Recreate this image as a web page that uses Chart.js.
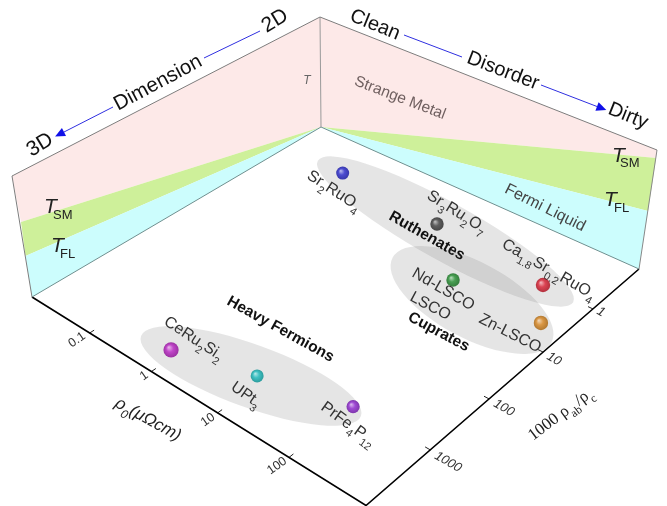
<!DOCTYPE html>
<html><head><meta charset="utf-8">
<style>html,body{margin:0;padding:0;background:#fff}canvas{display:block}</style>
<script src="https://cdn.jsdelivr.net/npm/chart.js@4"></script></head>
<body><canvas id="c" width="667" height="506"></canvas>
<script>
// ---- data ----
const materials = ["Sr2RuO4","Sr3Ru2O7","Ca1.8Sr0.2RuO4","Nd-LSCO","Zn-LSCO","CeRu2Si2","UPt3","PrFe4P12"];
const rho0 = [0.097,4.24,208,29.4,497,0.79,8.1,100];          // µΩcm
const rhoRatio = [0.49,0.65,0.99,3.96,3.93,4110,2060,1040];   // 1000 rho_ab/rho_c
const rho0Ticks = [0.1,1,10,100];
const ratioTicks = [1,10,100,1000];
const rho0Range = [0.01,1000];
const ratioRange = [0.1,10000];

// ---- styles ----
const sphereColors = [[67,67,207],[85,85,85],[217,58,74],[63,154,74],[216,146,58],[189,60,198],[53,190,192],[154,66,210]];
const sphereRadii = [6.5,6.7,7.2,6.7,7.2,7.6,6.5,6.6];
const PINK="#fde9e8", GREEN="#cef09a", CYAN="#ccfdfd", EDGE="#7d7d7d", BLUE="#2f2fe0";

// floor projection: corners of the floor in canvas coordinates
const A=[321,127],B=[639,269],C=[366,505.5],D=[32,297];
const H=(()=>{const dx1=B[0]-C[0],dy1=B[1]-C[1],dx2=D[0]-C[0],dy2=D[1]-C[1],
  sx=A[0]-B[0]+C[0]-D[0],sy=A[1]-B[1]+C[1]-D[1],det=dx1*dy2-dy1*dx2,
  g=(sx*dy2-sy*dx2)/det,h=(dx1*sy-dy1*sx)/det;
  return {a:B[0]-A[0]+g*B[0],b:D[0]-A[0]+h*D[0],c:A[0],d:B[1]-A[1]+g*B[1],e:D[1]-A[1]+h*D[1],f:A[1],g,h};})();
function project(r,q){
  const p=(Math.log10(r)-Math.log10(rho0Range[0]))/(Math.log10(rho0Range[1])-Math.log10(rho0Range[0]));
  const s=(Math.log10(q)-Math.log10(ratioRange[0]))/(Math.log10(ratioRange[1])-Math.log10(ratioRange[0]));
  const w=H.g*p+H.h*s+1;
  return {x:(H.a*p+H.b*s+H.c)/w,y:(H.d*p+H.e*s+H.f)/w};
}
const spherePts = materials.map((m,i)=>project(rho0[i],rhoRatio[i]));

// axis lines and tick marks through the projection
const tickDecade=Math.pow(10,0.065);
const rhoTickPts=[];rho0Ticks.forEach(t=>{rhoTickPts.push(project(t,ratioRange[1]),project(t,ratioRange[1]/tickDecade),{x:null,y:null});});
const ratioTickPts=[];ratioTicks.forEach(t=>{ratioTickPts.push(project(rho0Range[1],t),project(rho0Range[1]/tickDecade,t),{x:null,y:null});});

const lineDs=(data,color,w)=>({type:'scatter',data,showLine:true,borderColor:color,borderWidth:w,pointRadius:0,spanGaps:false,fill:false,order:2});

// wall geometry
const wallTop=[[12,176],[320,17],[657,150]];
const wallEdgesRightDown=[[657,150],[639,269]];
const leftBands={top:[12,176],sm:[21,222],fl:[25.5,256],floor:[32,297]};
const rightBands={top:[657,150],sm:[656,158],fl:[648,211],floor:[639,269]};
const backTop=[320,17],backFloor=[321,127];

// grey group ellipses: [cx, cy, half-major, half-minor, angle°]
const groups=[
  [445.5,231.5,146,29,29],
  [472,300,90,38,28],
  [251,376,117,31.5,20]
];

// labels: text, x, y, angle°, size, style
const floorLabels=[
 ["Sr_{2}RuO_{4}",306,178,33,16],
 ["Sr_{3}Ru_{2}O_{7}",426,198,32,16],
 ["Ca_{1.8}Sr_{0.2}RuO_{4}",501,247,30,16],
 ["Nd-LSCO",411,276,30,16],
 ["LSCO",409,300,28,16],
 ["Zn-LSCO",478,322,27,16],
 ["CeRu_{2}Si_{2}",163,324,33,16],
 ["UPt_{3}",230,389,35,16],
 ["PrFe_{4}P_{12}",320,409,36,16]
];
const boldLabels=[
 ["Ruthenates",388,219,29.5,15.5],
 ["Cuprates",407,320,28,15.5],
 ["Heavy Fermions",226,304,29,15.5]
];
const headLabels=[
 ["2D",275,21,-31,21],["Dimension",158,83,-28,20.5],["3D",40,145,-31,21],
 ["Clean",375,25,22,20],["Disorder",503,71,21,20],["Dirty",628,116,22,20]
];
const rhoTickLabels=[["0.1",77,340],["1",144,376],["10",208,420],["100",277,466]];
const ratioTickLabels=[["1",601,312],["10",554,359],["100",504,408],["1000",448,462]];

function rich(ctx,s,x,y,angle,size,opt={}){
  const family=opt.family||'"Liberation Sans"',w=opt.weight||'normal',st=opt.italic?'italic ':'';
  ctx.save();ctx.translate(x,y);ctx.rotate(angle*Math.PI/180);
  ctx.fillStyle=opt.color||'#333';ctx.textAlign='left';ctx.textBaseline='alphabetic';
  let cx=0;
  s.split(/(_\{[^}]*\})/).filter(Boolean).forEach(part=>{
    const sub=part.startsWith('_{');const t=sub?part.slice(2,-1):part;
    const fs=sub?size*(opt.subRatio||0.68):size;
    ctx.font=`${st}${w} ${fs}px ${family}`;
    ctx.fillText(t,cx,sub?size*0.36:0);
    cx+=ctx.measureText(t).width;
  });
  ctx.restore();
}
function centered(ctx,s,x,y,angle,size,opt={}){
  ctx.save();ctx.translate(x,y);ctx.rotate(angle*Math.PI/180);
  ctx.font=`${opt.italic?'italic ':''}${size}px ${opt.family||'"Liberation Sans"'}`;
  ctx.fillStyle=opt.color||'#111';ctx.textAlign='center';ctx.textBaseline='middle';
  ctx.fillText(s,0,0);ctx.restore();
}
function arrow(ctx,x0,y0,x1,y1,head){
  ctx.strokeStyle=BLUE;ctx.lineWidth=1;ctx.beginPath();ctx.moveTo(x0,y0);ctx.lineTo(x1,y1);ctx.stroke();
  if(head){const a=Math.atan2(y1-y0,x1-x0),L=10,W=4.5;
    ctx.fillStyle='#1010e8';ctx.beginPath();
    ctx.moveTo(x1+Math.cos(a)*L,y1+Math.sin(a)*L);
    ctx.lineTo(x1-Math.sin(a)*W,y1+Math.cos(a)*W);
    ctx.lineTo(x1+Math.sin(a)*W,y1-Math.cos(a)*W);ctx.closePath();ctx.fill();}
}

const scenePlugin={
 id:'scene',
 beforeDatasetsDraw(chart){
  const ctx=chart.ctx,X=chart.scales.x,Y=chart.scales.y;
  const P=p=>[X.getPixelForValue(p[0]),Y.getPixelForValue(p[1])];
  const poly=(pts,color)=>{ctx.fillStyle=color;ctx.beginPath();pts.map(P).forEach((p,i)=>i?ctx.lineTo(p[0],p[1]):ctx.moveTo(p[0],p[1]));ctx.closePath();ctx.fill();};
  ctx.save();
  poly([backTop,leftBands.top,leftBands.sm,backFloor],PINK);
  poly([backFloor,leftBands.sm,leftBands.fl],GREEN);
  poly([backFloor,leftBands.fl,leftBands.floor],CYAN);
  poly([backTop,rightBands.top,rightBands.sm,backFloor],PINK);
  poly([backFloor,rightBands.sm,rightBands.fl],GREEN);
  poly([backFloor,rightBands.fl,rightBands.floor],CYAN);
  groups.forEach(g=>{const c=P(g);ctx.fillStyle='rgba(125,125,125,0.2)';ctx.beginPath();
    ctx.ellipse(c[0],c[1],g[2],g[3],g[4]*Math.PI/180,0,Math.PI*2);ctx.fill();});
  ctx.restore();
 },
 afterDatasetsDraw(chart){
  const ctx=chart.ctx;
  ctx.save();
  arrow(ctx,260,31,204,58);arrow(ctx,113,107,64,132,true);
  arrow(ctx,404,35,462,57);arrow(ctx,541,85,597,106.5,true);
  headLabels.forEach(l=>centered(ctx,l[0],l[1],l[2],l[3],l[4]));
  floorLabels.forEach(l=>rich(ctx,l[0],l[1],l[2],l[3],l[4]));
  boldLabels.forEach(l=>rich(ctx,l[0],l[1],l[2],l[3],l[4],{weight:'bold',color:'#111'}));
  centered(ctx,"Strange Metal",400,98,21,15.5,{color:'#6f5f5f'});
  centered(ctx,"Fermi Liquid",545,208,26.5,16,{color:'#444'});
  centered(ctx,"T",307,81,0,12,{italic:true,color:'#666'});
  const T=(x,y,sub,sx,sy)=>{ctx.fillStyle='#222';ctx.textAlign='left';ctx.textBaseline='alphabetic';
    ctx.font='italic 21px "Liberation Sans"';ctx.fillText('T',x,y);
    ctx.font='13px "Liberation Sans"';ctx.fillText(sub,sx,sy);};
  T(44,213,'SM',53,219);T(51,252,'FL',60,258);T(612,162,'SM',620,167);T(604,206,'FL',614,212);
  rhoTickLabels.forEach(l=>centered(ctx,l[0],l[1],l[2],-35,12.5,{color:'#333'}));
  ratioTickLabels.forEach(l=>centered(ctx,l[0],l[1],l[2],30,13,{color:'#333',italic:true}));
  rich(ctx,"ρ_{0}(μΩcm)",114,406,29,17,{italic:true,color:'#222',subRatio:.7});
  rich(ctx,"1000 ρ_{ab}/ρ_{c}",533,441,-37,17,{family:'"Liberation Serif"',color:'#222',subRatio:.7});
  ctx.restore();
 }
};

const mix=(c,t,k)=>`rgb(${c.map(v=>Math.round(v+(t-v)*k)).join(',')})`;
new Chart(document.getElementById('c'),{
 type:'scatter',
 data:{datasets:[
  lineDs(wallTop.map(p=>({x:p[0],y:p[1]})),EDGE,1),
  lineDs([{x:backTop[0],y:backTop[1]},{x:backFloor[0],y:backFloor[1]}],'#999',1),
  lineDs([leftBands.top,leftBands.floor].map(p=>({x:p[0],y:p[1]})),EDGE,1),
  lineDs(wallEdgesRightDown.map(p=>({x:p[0],y:p[1]})),'#888',1),
  lineDs([{x:backFloor[0],y:backFloor[1]},{x:leftBands.floor[0],y:leftBands.floor[1]}],'#6f8f8f',1),
  lineDs([{x:backFloor[0],y:backFloor[1]},{x:rightBands.floor[0],y:rightBands.floor[1]}],'#6f8f8f',1),
  lineDs([project(rho0Range[0],ratioRange[1]),project(rho0Range[1],ratioRange[1]),project(rho0Range[1],ratioRange[0])],'#000',1.6),
  lineDs(rhoTickPts,'#222',1),
  lineDs(ratioTickPts,'#222',1),
  {label:'materials',data:spherePts,order:1,pointRadius:sphereRadii,pointHoverRadius:sphereRadii,pointBorderWidth:0,
   pointBackgroundColor(c){
    const i=c.dataIndex;
    if(i===undefined)return 'rgb(120,120,120)';
    const x=c.chart.scales.x.getPixelForValue(spherePts[i].x),y=c.chart.scales.y.getPixelForValue(spherePts[i].y),r=sphereRadii[i],col=sphereColors[i];
    if(!Number.isFinite(x)||!Number.isFinite(y))return mix(col,0,0);
    const g=c.chart.ctx.createRadialGradient(x-r*.3,y-r*.35,r*.05,x,y,r);
    g.addColorStop(0,mix(col,255,.6));g.addColorStop(.45,mix(col,255,.05));g.addColorStop(1,mix(col,0,.18));
    return g;}
  }
 ]},
 options:{responsive:false,animation:false,devicePixelRatio:1,layout:{padding:0,autoPadding:false},
  plugins:{legend:{display:false},tooltip:{enabled:false}},
  events:[],
  scales:{x:{type:'linear',min:0,max:667,display:false},y:{type:'linear',min:0,max:506,reverse:true,display:false}}},
 plugins:[scenePlugin]
});
</script></body></html>
